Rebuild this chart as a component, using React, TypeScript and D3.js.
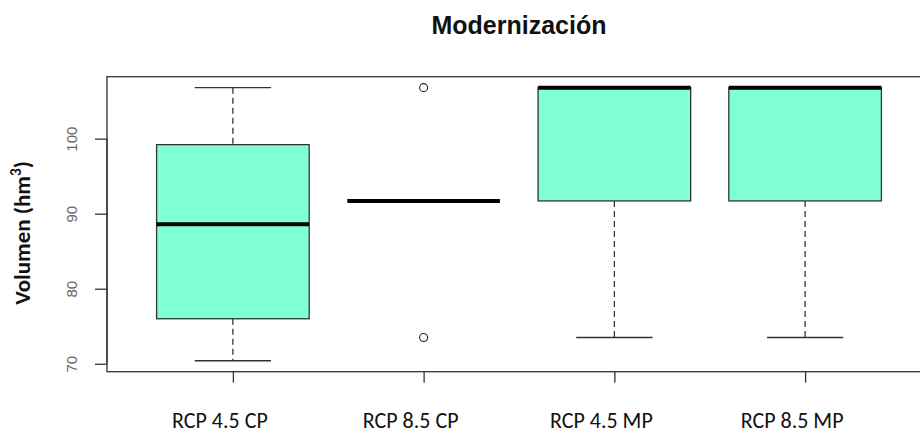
import React, { useRef, useEffect } from 'react';
import * as d3 from 'd3';

// box statistics per scenario
const categories = ['RCP 4.5 CP', 'RCP 8.5 CP', 'RCP 4.5 MP', 'RCP 8.5 MP'];
const lowerWhisker = [70.4, 91.7, 73.5, 73.5];
const q1 = [76.0, 91.7, 91.7, 91.7];
const medians = [88.6, 91.7, 106.8, 106.8];
const q3 = [99.2, 91.7, 106.8, 106.8];
const upperWhisker = [106.8, 91.7, 106.8, 106.8];
const outliers = [[], [106.8, 73.5], [], []];
const yTicks = [70, 80, 90, 100];

const title = 'Modernización';
const yTitle = 'Volumen (hm';

const WIDTH = 920;
const HEIGHT = 434;

const App = () => {
  const svgRef = useRef(null);

  useEffect(() => {
    const svg = d3.select(svgRef.current);
    svg.selectAll('*').remove();

    const plot = { left: 107, right: 931, top: 76.7, bottom: 371.7 };
    const n = categories.length;

    // R style: 4% padding around the data range
    const xPad = n * 0.04;
    const xScale = d3.scaleLinear()
      .domain([0.5 - xPad, n + 0.5 + xPad])
      .range([plot.left, plot.right]);

    const allVals = [...lowerWhisker, ...upperWhisker, ...outliers.flat()];
    const yMin = d3.min(allVals);
    const yMax = d3.max(allVals);
    const yPad = (yMax - yMin) * 0.04;
    const yScale = d3.scaleLinear()
      .domain([yMin - yPad, yMax + yPad])
      .range([plot.bottom, plot.top]);

    const boxW = xScale(0.8) - xScale(0);
    const frame = '#333';

    // boxes
    categories.forEach((c, i) => {
      const cx = xScale(i + 1);
      const g = svg.append('g');

      // whiskers (dashed)
      g.append('line')
        .attr('x1', cx).attr('x2', cx)
        .attr('y1', yScale(upperWhisker[i])).attr('y2', yScale(q3[i]))
        .attr('stroke', frame).attr('stroke-width', 1.3)
        .attr('stroke-dasharray', '6,4');
      g.append('line')
        .attr('x1', cx).attr('x2', cx)
        .attr('y1', yScale(q1[i])).attr('y2', yScale(lowerWhisker[i]))
        .attr('stroke', frame).attr('stroke-width', 1.3)
        .attr('stroke-dasharray', '6,4');

      // staples
      [lowerWhisker[i], upperWhisker[i]].forEach(v => {
        if (v === q1[i] && v === q3[i]) return;
        g.append('line')
          .attr('x1', cx - boxW / 4).attr('x2', cx + boxW / 4)
          .attr('y1', yScale(v)).attr('y2', yScale(v))
          .attr('stroke', frame).attr('stroke-width', 1.3);
      });

      // box
      if (q3[i] > q1[i]) {
        g.append('rect')
          .attr('x', cx - boxW / 2)
          .attr('y', yScale(q3[i]))
          .attr('width', boxW)
          .attr('height', yScale(q1[i]) - yScale(q3[i]))
          .attr('fill', '#7FFFD4')
          .attr('stroke', frame).attr('stroke-width', 1.3);
      }

      // median
      g.append('line')
        .attr('x1', cx - boxW / 2).attr('x2', cx + boxW / 2)
        .attr('y1', yScale(medians[i])).attr('y2', yScale(medians[i]))
        .attr('stroke', '#000').attr('stroke-width', 4);

      // outliers
      g.selectAll('circle')
        .data(outliers[i])
        .enter()
        .append('circle')
        .attr('cx', cx)
        .attr('cy', d => yScale(d))
        .attr('r', 4)
        .attr('fill', 'none')
        .attr('stroke', '#222').attr('stroke-width', 1.1);
    });

    // frame
    svg.append('rect')
      .attr('x', plot.left).attr('y', plot.top)
      .attr('width', plot.right - plot.left)
      .attr('height', plot.bottom - plot.top)
      .attr('fill', 'none')
      .attr('stroke', frame).attr('stroke-width', 1.3);

    // y axis
    const yAxis = d3.axisLeft(yScale).tickValues(yTicks).tickSize(12).tickFormat(d3.format('d'));
    const ya = svg.append('g')
      .attr('transform', `translate(${plot.left}, 0)`)
      .call(yAxis);
    ya.select('.domain')
      .attr('d', `M0,${yScale(yTicks[0])}V${yScale(yTicks[yTicks.length - 1])}`)
      .attr('stroke', frame).attr('stroke-width', 1.3);
    ya.selectAll('.tick line').attr('stroke', frame).attr('stroke-width', 1.3);
    ya.selectAll('.tick text')
      .attr('x', null).attr('dy', null)
      .attr('transform', 'translate(-30, 0) rotate(-90)')
      .attr('text-anchor', 'middle')
      .attr('font-family', '"Liberation Sans", Arial, sans-serif')
      .attr('font-size', 15)
      .attr('fill', '#666');

    // x axis
    const xAxis = d3.axisBottom(xScale)
      .tickValues(d3.range(1, n + 1))
      .tickSize(11)
      .tickFormat(() => '');
    const xa = svg.append('g')
      .attr('transform', `translate(0, ${plot.bottom})`)
      .call(xAxis);
    xa.select('.domain').remove();
    xa.selectAll('.tick line').attr('stroke', frame).attr('stroke-width', 1.3);

    // category labels
    svg.selectAll('.cat')
      .data(categories)
      .enter()
      .append('text')
      .attr('class', 'cat')
      .attr('x', (d, i) => xScale(i + 1) - 13)
      .attr('y', 428)
      .attr('text-anchor', 'middle')
      .attr('font-family', 'Calibri, Carlito, Lato, sans-serif')
      .attr('font-size', 22)
      .attr('fill', '#111')
      .text(d => d);

    // title
    svg.append('text')
      .attr('x', (plot.left + plot.right) / 2)
      .attr('y', 34)
      .attr('text-anchor', 'middle')
      .attr('font-family', '"Liberation Sans", Arial, sans-serif')
      .attr('font-weight', 'bold')
      .attr('font-size', 25)
      .attr('fill', '#111')
      .text(title);

    // y title with superscript
    const yt = svg.append('text')
      .attr('transform', 'translate(30, 233) rotate(-90)')
      .attr('text-anchor', 'middle')
      .attr('font-family', 'Calibri, Carlito, Lato, sans-serif')
      .attr('font-weight', 'bold')
      .attr('font-size', 23)
      .attr('fill', '#111');
    yt.append('tspan').text(yTitle);
    yt.append('tspan').attr('dy', -9).attr('font-size', 15).text('3');
    yt.append('tspan').attr('dy', 9).text(')');
  }, []);

  return (
    <div style={{ position: 'absolute', left: 0, top: 0 }}>
      <svg ref={svgRef} width={WIDTH} height={HEIGHT} style={{ display: 'block', background: '#fff' }}></svg>
    </div>
  );
};

export default App;
